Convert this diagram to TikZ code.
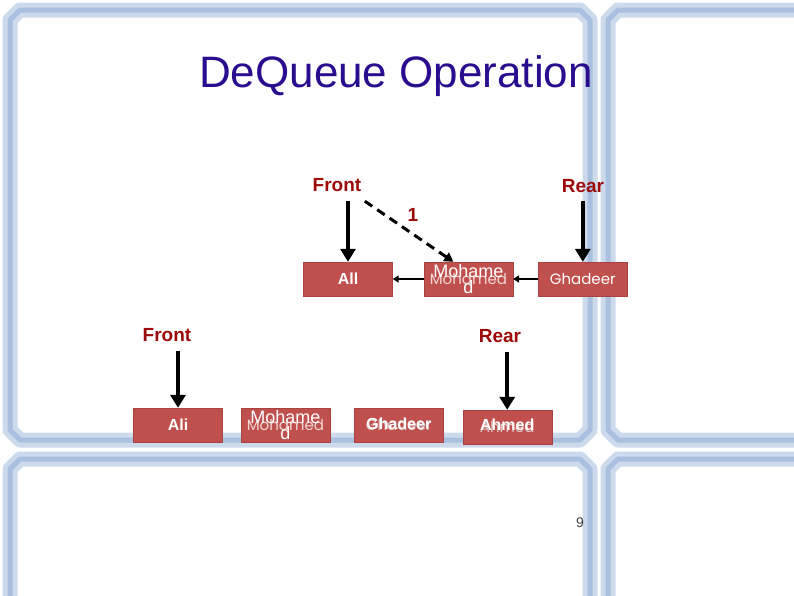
\documentclass[tikz,border=0pt]{standalone}
\usepackage{fontspec}
\setmainfont{Liberation Sans}
\newfontfamily\gothicfont{Poppins}
\usepackage{xcolor}
\definecolor{TitleBlue}{HTML}{2A0C8E}
\definecolor{LabelRed}{HTML}{9C0A0A}
\definecolor{BoxRed}{HTML}{C0504D}
\definecolor{BoxEdge}{HTML}{A94340}
\definecolor{FramePale}{HTML}{CCDAEC}
\definecolor{FrameMid}{HTML}{A9C0E0}
\definecolor{GhostPink}{HTML}{F2D7D6}
\usetikzlibrary{arrows.meta, positioning}

\begin{document}
\begin{tikzpicture}[x=1pt, y=-1pt,
  panel/.style={draw=FramePale, line width=15pt, fill=white, line join=round},
  panelline/.style={draw=FrameMid, line width=5pt, line join=round},
  box/.style={rectangle, draw=BoxEdge, fill=BoxRed, minimum width=89pt, minimum height=34pt, inner sep=0pt},
  boxtext/.style={font=\fontsize{16}{18}\selectfont\bfseries, text=white, align=center},
  plaintext/.style={font=\fontsize{18}{18}\selectfont, text=white, align=center},
  ghost/.style={font=\gothicfont\fontsize{15}{17}\selectfont, text=GhostPink},
  tag/.style={font=\fontsize{19}{21}\selectfont\bfseries, text=LabelRed},
  arrow/.style={-{Triangle[width=15pt,length=13pt]}, line width=3.5pt},
  link/.style={-{Triangle[width=7pt,length=6pt]}, line width=1.8pt},
  dasharrow/.style={-{Triangle[width=10pt,length=9pt]}, line width=3pt, dash pattern=on 9pt off 6pt}
]
\useasboundingbox (0,0) rectangle (794,595);
\clip (0,0) rectangle (794,595);

% slide panels
\foreach \xa/\ya/\xb/\yb in {10/10/590/440, 608/10/820/440, 10/459/590/620, 608/459/820/620} {
  \draw[panel] (\xa+10,\ya) -- (\xb-10,\ya) -- (\xb,\ya+10) -- (\xb,\yb-10) -- (\xb-10,\yb)
    -- (\xa+10,\yb) -- (\xa,\yb-10) -- (\xa,\ya+10) -- cycle;
  \draw[panelline] (\xa+10,\ya) -- (\xb-10,\ya) -- (\xb,\ya+10) -- (\xb,\yb-10) -- (\xb-10,\yb)
    -- (\xa+10,\yb) -- (\xa,\yb-10) -- (\xa,\ya+10) -- cycle;
}

\node[font=\fontsize{44}{48}\selectfont, text=TitleBlue] (title) at (396,76) {DeQueue Operation};

% queue before
\node[box, boxtext] (ali1) at (348,279) {All};
\node[box, ghost, right=31pt of ali1] (moh1) {Mohamed};
\node[plaintext] (moh1top) at (moh1) {Mohame\\[-2pt]d};
\node[box, ghost, text=white, right=25pt of moh1] (gha1) {Ghadeer};

\node[tag] (front1) at (337,185) {Front};
\node[tag] (rear1) at (583,186) {Rear};
\node[tag] (one) at (413,215) {1};

\draw[arrow] ([yshift=-6pt]front1.south -| ali1) -- (ali1.north);
\draw[arrow] ([yshift=-5pt]rear1.south -| gha1) -- (gha1.north);
\draw[dasharrow] ([yshift=-6pt]front1.south east) -- ([xshift=-15pt]moh1.north);
\draw[link] (moh1) -- (ali1);
\draw[link] (gha1) -- (moh1);

% queue after
\node[box, boxtext] (ali2) at (178,425) {Ali};
\node[box, ghost, right=18pt of ali2] (moh2) {Mohamed};
\node[plaintext] (moh2top) at (moh2) {Mohame\\[-2pt]d};
\node[box, ghost, text=GhostPink!80!gray, right=24pt of moh2] (gha2) {Ghadeer};
\node[boxtext] (gha2top) at ([yshift=1pt]gha2) {Ghadeer};
\node[box, ghost, text=GhostPink!80!gray, right=19pt of gha2, yshift=-2pt] (ahm2) {Ahmed};
\node[boxtext] (ahm2top) at ([yshift=2pt]ahm2) {Ahmed};

\node[tag] (front2) at (167,335) {Front};
\node[tag] (rear2) at (500,336) {Rear};

\draw[arrow] ([yshift=-6pt]front2.south -| ali2) -- (ali2.north);
\draw[arrow] ([yshift=-6pt]rear2.south -| ahm2) -- (ahm2.north);

\node[font=\fontsize{14}{16}\selectfont, text=black!75] (pagenum) at (580,523) {9};
\end{tikzpicture}
\end{document}
